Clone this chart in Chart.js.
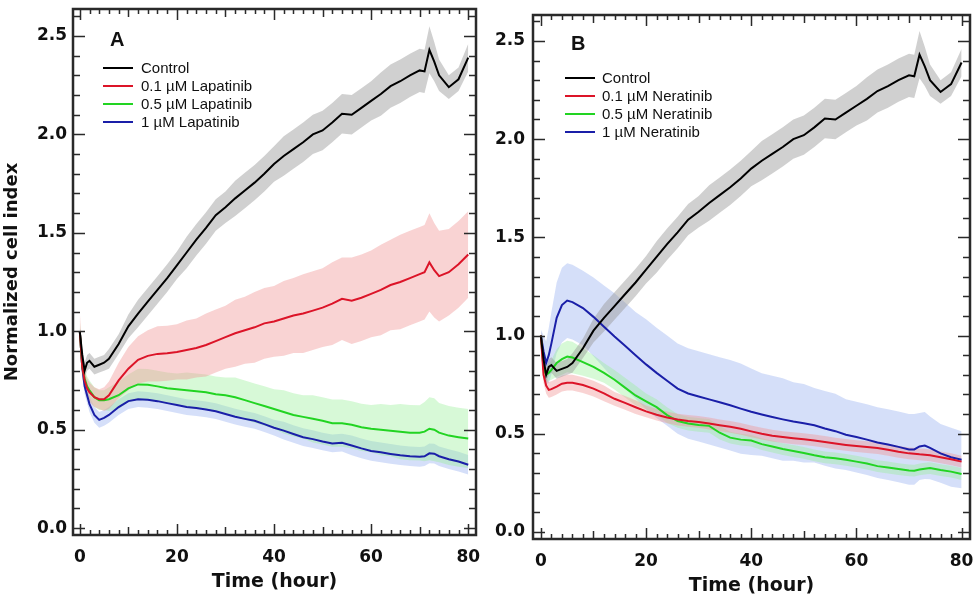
<!DOCTYPE html>
<html><head><meta charset="utf-8">
<script src="https://cdn.jsdelivr.net/npm/chart.js@4"></script>
<style>
html,body{margin:0;padding:0;background:#fff;width:979px;height:601px;overflow:hidden;}
canvas{position:absolute;top:0;}
#cA{left:0;}
#cB{left:485px;}
.leg{position:absolute;font:15px "Liberation Sans",Arial,sans-serif;color:#111;white-space:nowrap;line-height:18px;}
.sw{position:absolute;height:2px;width:30px;}
.panel{position:absolute;font:bold 20px "Liberation Sans",Arial,sans-serif;color:#111;line-height:22px;}
</style></head>
<body>
<canvas id="cA" width="485" height="601"></canvas>
<canvas id="cB" width="494" height="601"></canvas>
<div id="overlay"></div>
<script>
// ---------- DATA ----------
const time = [0,0.5,1,1.5,2,3,4,5,6,8,10,12,14,16,18,20,22,24,26,28,30,32,34,36,38,40,42,44,46,48,50,52,54,56,58,60,62,64,66,68,70,71,72,73,74,76,78,80];

const control = [1.00,0.88,0.80,0.84,0.85,0.82,0.83,0.84,0.86,
  0.935,1.025,1.09,1.15,1.21,1.27,1.335,1.40,1.465,1.525,1.59,1.63,1.675,1.715,1.755,1.80,1.85,1.89,1.925,1.96,2.00,2.02,2.06,2.105,2.10,2.135,2.17,2.205,2.245,2.27,2.30,2.325,
  2.32,2.43,2.37,2.30,2.24,2.28,2.39];
const controlErr = [0.02,0.04,0.04,0.04,0.04,0.04,0.04,0.04,0.05,
  0.05,0.06,0.07,0.07,0.07,0.07,0.07,0.08,0.08,0.08,0.08,0.08,0.09,0.09,0.09,0.09,0.09,0.10,0.10,0.10,0.10,0.10,0.10,0.10,0.10,0.10,0.10,0.11,0.11,0.11,0.11,0.11,
  0.11,0.12,0.10,0.08,0.06,0.06,0.07];

const lap01 = [1.00,0.82,0.75,0.71,0.69,0.665,0.655,0.655,0.675,
  0.75,0.81,0.855,0.875,0.885,0.888,0.895,0.905,0.915,0.93,0.95,0.97,0.99,1.005,1.02,1.04,1.05,1.065,1.08,1.09,1.105,1.12,1.14,1.165,1.155,1.17,1.19,1.21,1.235,1.25,1.27,1.29,
  1.30,1.35,1.31,1.28,1.30,1.34,1.39];
const lap01Err = [0.10,0.06,0.05,0.05,0.05,0.05,0.05,0.06,0.07,
  0.09,0.11,0.12,0.13,0.14,0.14,0.14,0.15,0.15,0.16,0.16,0.16,0.17,0.17,0.18,0.18,0.18,0.19,0.19,0.20,0.20,0.20,0.21,0.21,0.22,0.22,0.22,0.23,0.23,0.24,0.24,0.24,
  0.24,0.25,0.24,0.23,0.22,0.22,0.22];

const lap05 = [1.00,0.82,0.76,0.72,0.70,0.665,0.65,0.65,0.655,
  0.675,0.71,0.73,0.728,0.72,0.71,0.705,0.70,0.695,0.69,0.68,0.675,0.665,0.65,0.635,0.62,0.605,0.59,0.575,0.565,0.555,0.545,0.533,0.533,0.525,0.512,0.505,0.50,0.495,0.49,0.485,0.484,
  0.49,0.505,0.50,0.485,0.47,0.462,0.455];
const lap05Err = [0.06,0.05,0.05,0.05,0.05,0.05,0.05,0.05,0.06,
  0.07,0.07,0.08,0.08,0.08,0.08,0.08,0.09,0.09,0.09,0.09,0.09,0.10,0.10,0.10,0.10,0.10,0.11,0.11,0.11,0.12,0.12,0.12,0.12,0.12,0.12,0.12,0.13,0.13,0.14,0.14,0.14,
  0.15,0.16,0.16,0.15,0.15,0.15,0.15];

const lap1 = [1.00,0.82,0.72,0.675,0.63,0.575,0.55,0.56,0.575,
  0.615,0.645,0.655,0.652,0.645,0.635,0.625,0.615,0.61,0.603,0.594,0.58,0.566,0.555,0.545,0.528,0.51,0.495,0.478,0.462,0.452,0.44,0.43,0.434,0.42,0.405,0.392,0.385,0.377,0.37,0.365,0.362,
  0.365,0.38,0.378,0.365,0.35,0.338,0.322];
const lap1Err = [0.03,0.04,0.04,0.04,0.04,0.04,0.04,0.04,0.04,
  0.04,0.04,0.04,0.04,0.04,0.04,0.04,0.04,0.04,0.04,0.04,0.04,0.04,0.04,0.04,0.04,0.04,0.045,0.045,0.045,0.045,0.045,0.045,0.045,0.05,0.05,0.05,0.05,0.05,0.05,0.05,0.05,
  0.05,0.05,0.05,0.05,0.05,0.05,0.05];

const ner01 = [1.00,0.80,0.745,0.723,0.727,0.74,0.755,0.76,0.76,
  0.748,0.73,0.705,0.678,0.657,0.635,0.614,0.597,0.583,0.572,0.565,0.56,0.552,0.543,0.535,0.525,0.512,0.50,0.49,0.483,0.477,0.472,0.466,0.458,0.45,0.443,0.437,0.432,0.427,0.418,0.408,0.40,
  0.398,0.395,0.393,0.39,0.38,0.37,0.358];
const ner01Err = [0.03,0.04,0.04,0.04,0.04,0.04,0.04,0.04,0.04,
  0.04,0.04,0.04,0.035,0.035,0.035,0.03,0.03,0.03,0.03,0.03,0.03,0.03,0.03,0.03,0.03,0.03,0.03,0.03,0.03,0.03,0.03,0.03,0.03,0.03,0.03,0.03,0.03,0.03,0.03,0.03,0.03,
  0.03,0.03,0.03,0.03,0.03,0.03,0.03];

const ner05 = [1.00,0.83,0.80,0.81,0.825,0.86,0.88,0.893,0.888,
  0.865,0.84,0.81,0.775,0.735,0.695,0.665,0.635,0.595,0.565,0.552,0.545,0.54,0.505,0.48,0.47,0.465,0.447,0.435,0.422,0.412,0.402,0.39,0.38,0.375,0.367,0.358,0.348,0.335,0.328,0.32,0.313,
  0.312,0.318,0.322,0.325,0.315,0.307,0.295];
const ner05Err = [0.02,0.04,0.04,0.04,0.05,0.07,0.08,0.08,0.08,
  0.07,0.06,0.05,0.05,0.05,0.05,0.04,0.04,0.04,0.035,0.035,0.035,0.035,0.035,0.03,0.03,0.03,0.03,0.03,0.03,0.03,0.03,0.03,0.03,0.03,0.03,0.03,0.03,0.03,0.03,0.03,0.03,
  0.03,0.03,0.03,0.03,0.03,0.03,0.03];

const ner1 = [1.00,0.92,0.86,0.90,0.96,1.09,1.155,1.178,1.17,
  1.14,1.095,1.045,0.995,0.948,0.90,0.853,0.81,0.77,0.73,0.705,0.69,0.675,0.66,0.645,0.628,0.612,0.598,0.585,0.573,0.562,0.553,0.543,0.527,0.513,0.495,0.483,0.47,0.455,0.445,0.433,0.42,
  0.42,0.435,0.44,0.428,0.40,0.38,0.368];
const ner1Err = [0.03,0.08,0.11,0.14,0.16,0.18,0.19,0.19,0.19,
  0.19,0.20,0.21,0.22,0.22,0.22,0.23,0.23,0.23,0.23,0.23,0.23,0.23,0.23,0.23,0.23,0.22,0.21,0.21,0.21,0.20,0.20,0.19,0.19,0.19,0.18,0.18,0.18,0.18,0.18,0.18,0.18,
  0.18,0.17,0.17,0.16,0.15,0.15,0.145];

const xTicks = [0,20,40,60,80];
const yTicks = [0,0.5,1.0,1.5,2.0,2.5];
const yTickLabels = ['0.0','0.5','1.0','1.5','2.0','2.5'];
const labelsA = ['Control','0.1 µM Lapatinib','0.5 µM Lapatinib','1 µM Lapatinib'];
const labelsB = ['Control','0.1 µM Neratinib','0.5 µM Neratinib','1 µM Neratinib'];

// ---------- STYLE ----------
const lineColors = ['#000000','#dc1428','#22d422','#1a1fa8'];
const bandColors = ['rgba(150,150,150,0.45)','rgba(240,150,150,0.42)','rgba(150,240,150,0.38)','rgba(150,175,240,0.40)'];

function seriesSets(label, vals, errs, ci) {
  const lo = time.map((t,i)=>({x:t, y:vals[i]-errs[i]}));
  const hi = time.map((t,i)=>({x:t, y:vals[i]+errs[i]}));
  const mid = time.map((t,i)=>({x:t, y:vals[i]}));
  return {
    bands: [
      {label:label+' lo', data:lo, borderWidth:0, pointRadius:0, fill:false, order:5},
      {label:label+' hi', data:hi, borderWidth:0, pointRadius:0, fill:'-1', backgroundColor:bandColors[ci], order:5}
    ],
    line: {label:label, data:mid, borderColor:lineColors[ci], borderWidth:2, pointRadius:0, fill:false, order:1}
  };
}

const frameTicks = {
  id:'frameTicks',
  afterDatasetsDraw(chart){
    const {ctx, chartArea:a, scales:{x,y}} = chart;
    ctx.save();
    ctx.strokeStyle = '#2a2a2a';
    ctx.lineWidth = 1.5;
    ctx.beginPath();
    for (let v=0; v<=80; v+=2){
      const px = Math.round(x.getPixelForValue(v))+0.5;
      const L = v%20===0 ? 11 : (v%10===0 ? 8 : 5);
      ctx.moveTo(px,a.bottom); ctx.lineTo(px,a.bottom-L);
      ctx.moveTo(px,a.top); ctx.lineTo(px,a.top+L);
    }
    for (let k=0; k<=26; k++){
      const v = k/10;
      const py = Math.round(y.getPixelForValue(v))+0.5;
      const L = k%5===0 ? 12 : 7;
      ctx.moveTo(a.left,py); ctx.lineTo(a.left+L,py);
      ctx.moveTo(a.right,py); ctx.lineTo(a.right-L,py);
    }
    ctx.stroke();
    ctx.lineWidth = 2.5;
    ctx.strokeRect(a.left, a.top, a.right-a.left, a.bottom-a.top);
    ctx.restore();
  }
};

const tickFont = {family:'"DejaVu Sans", sans-serif', size:17, weight:'bold'};

function makeChart(id, series, opts){
  const bands = [], lines = [];
  series.forEach(s=>{ bands.push(...s.bands); lines.push(s.line); });
  const yScale = {
    type:'linear', min:opts.ymin, max:opts.ymax,
    afterBuildTicks:s=>{ s.ticks = yTicks.map(v=>({value:v})); },
    afterFit:s=>{ s.width = opts.yWidth; s.paddingTop = 0; s.paddingBottom = 0; },
    grid:{display:false, drawTicks:false}, border:{display:false},
    ticks:{padding:opts.yPad, font:tickFont, color:'#111', callback:(v)=>{ const i = yTicks.indexOf(v); return i>=0 ? yTickLabels[i] : ''; }},
    title: opts.yTitle ? {display:true, text:'Normalized cell index', color:'#111', font:{family:'"DejaVu Sans", sans-serif', size:18, weight:'bold'}, padding:{top:2,bottom:0}} : {display:false}
  };
  return new Chart(document.getElementById(id), {
    type:'line',
    data:{datasets:[...lines, ...bands]},
    options:{
      responsive:false, animation:false, parsing:true,
      layout:{padding:{top:opts.top, right:opts.right, left:0, bottom:0}},
      plugins:{legend:{display:false}, tooltip:{enabled:false}, filler:{drawTime:'beforeDatasetsDraw'}},
      elements:{line:{tension:0}},
      scales:{
        x:{
          type:'linear', min:opts.xmin, max:opts.xmax,
          afterBuildTicks:s=>{ s.ticks = xTicks.map(v=>({value:v})); },
          afterFit:s=>{ s.height = opts.xHeight; s.paddingLeft = 0; s.paddingRight = 0; },
          grid:{display:false, drawTicks:false}, border:{display:false},
          ticks:{padding:12, font:tickFont, color:'#111', maxRotation:0, callback:v=>String(v)},
          title:{display:true, text:'Time (hour)', color:'#111', font:{family:'"DejaVu Sans", sans-serif', size:19, weight:'bold'}, padding:{top:0,bottom:opts.titleBottom}}
        },
        y:yScale
      }
    },
    plugins:[frameTicks]
  });
}

const seriesA = [
  seriesSets(labelsA[0], control, controlErr, 0),
  seriesSets(labelsA[1], lap01, lap01Err, 1),
  seriesSets(labelsA[2], lap05, lap05Err, 2),
  seriesSets(labelsA[3], lap1, lap1Err, 3)
];
const seriesB = [
  seriesSets(labelsB[0], control, controlErr, 0),
  seriesSets(labelsB[1], ner01, ner01Err, 1),
  seriesSets(labelsB[2], ner05, ner05Err, 2),
  seriesSets(labelsB[3], ner1, ner1Err, 3)
];

makeChart('cA', seriesA, {ymin:-0.035, ymax:2.637, xmin:-1.4, xmax:81.6, yWidth:73, yPad:6, top:9, right:9, xHeight:66, titleBottom:8, yTitle:true});
makeChart('cB', seriesB, {ymin:-0.036, ymax:2.632, xmin:-1.5, xmax:81.6, yWidth:48, yPad:8, top:15, right:9, xHeight:62, titleBottom:4, yTitle:false});

// ---------- LEGENDS (HTML text) ----------
const ov = document.getElementById('overlay');
function legend(panelLetter, px, py, lineX, textX, ys, labels){
  const p = document.createElement('div');
  p.className='panel'; p.textContent=panelLetter;
  p.style.left=px+'px'; p.style.top=(py-11)+'px';
  ov.appendChild(p);
  labels.forEach((lab,i)=>{
    const sw = document.createElement('div');
    sw.className='sw'; sw.style.left=lineX+'px'; sw.style.top=(ys[i]-1)+'px'; sw.style.background=lineColors[i];
    ov.appendChild(sw);
    const t = document.createElement('div');
    t.className='leg'; t.textContent=lab; t.style.left=textX+'px'; t.style.top=(ys[i]-9)+'px';
    ov.appendChild(t);
  });
}
legend('A', 110, 39, 103, 141, [68,86,104,122], labelsA);
legend('B', 571, 43, 565, 602, [78,96,114,132], labelsB);
</script>
</body></html>
